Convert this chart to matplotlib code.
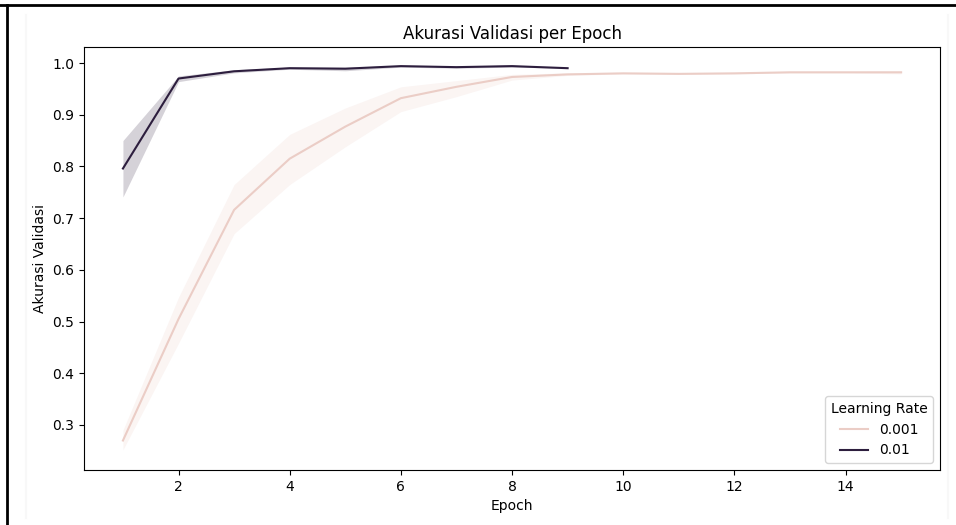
import numpy as np
import matplotlib
matplotlib.use('Agg')
import matplotlib.pyplot as plt
from matplotlib.lines import Line2D

# Mean validation accuracy per epoch, with confidence band
epochs_001 = [1, 2, 3, 4, 5, 6, 7, 8, 9, 10, 11, 12, 13, 14, 15]
mean_001 = [0.270, 0.505, 0.716, 0.815, 0.877, 0.932, 0.954, 0.973, 0.978, 0.980, 0.979, 0.980, 0.982, 0.982, 0.982]
low_001 = [0.252, 0.458, 0.670, 0.765, 0.838, 0.906, 0.935, 0.967, 0.976, 0.979, 0.978, 0.979, 0.981, 0.981, 0.979]
high_001 = [0.290, 0.547, 0.765, 0.862, 0.913, 0.954, 0.966, 0.978, 0.981, 0.981, 0.980, 0.981, 0.984, 0.984, 0.985]

epochs_01 = [1, 2, 3, 4, 5, 6, 7, 8, 9]
mean_01 = [0.796, 0.970, 0.984, 0.990, 0.989, 0.994, 0.992, 0.994, 0.990]
low_01 = [0.741, 0.964, 0.981, 0.988, 0.985, 0.992, 0.990, 0.992, 0.990]
high_01 = [0.850, 0.975, 0.987, 0.992, 0.992, 0.995, 0.994, 0.996, 0.990]

labels = ['0.001', '0.01']
colors = ['#ebcdc6', '#2d1e3e']

fig = plt.figure(figsize=(9.56, 5.25), dpi=100)
ax = fig.add_axes([0.0879, 0.1048, 0.8954, 0.8057])

series = [
    (epochs_001, mean_001, low_001, high_001),
    (epochs_01, mean_01, low_01, high_01),
]
for (x, m, lo, hi), lab, col in zip(series, labels, colors):
    ax.fill_between(x, lo, hi, color=col, alpha=0.2, linewidth=0)
    ax.plot(x, m, color=col, linewidth=1.5, label=lab)

ax.set_title('Akurasi Validasi per Epoch')
ax.set_xlabel('Epoch')
ax.set_ylabel('Akurasi Validasi')
ax.set_xticks([2, 4, 6, 8, 10, 12, 14])
ax.set_yticks([0.3, 0.4, 0.5, 0.6, 0.7, 0.8, 0.9, 1.0])
ax.set_xlim(0.3, 15.7)
ax.set_ylim(0.213, 1.031)
ax.legend(title='Learning Rate', loc='lower right')

# screenshot frame around the figure
fig.add_artist(Line2D([0, 1], [1 - 5 / 525, 1 - 5 / 525], color='black', linewidth=2))
fig.add_artist(Line2D([7 / 956, 7 / 956], [0, 1 - 5 / 525], color='black', linewidth=2))
fig.add_artist(Line2D([26 / 956, 26 / 956], [7 / 525, 1 - 15 / 525], color='#f8f8f8', linewidth=1.5))
fig.add_artist(Line2D([948 / 956, 948 / 956], [7 / 525, 1 - 15 / 525], color='#f8f8f8', linewidth=1.5))

fig.savefig('out.png', dpi=100)
